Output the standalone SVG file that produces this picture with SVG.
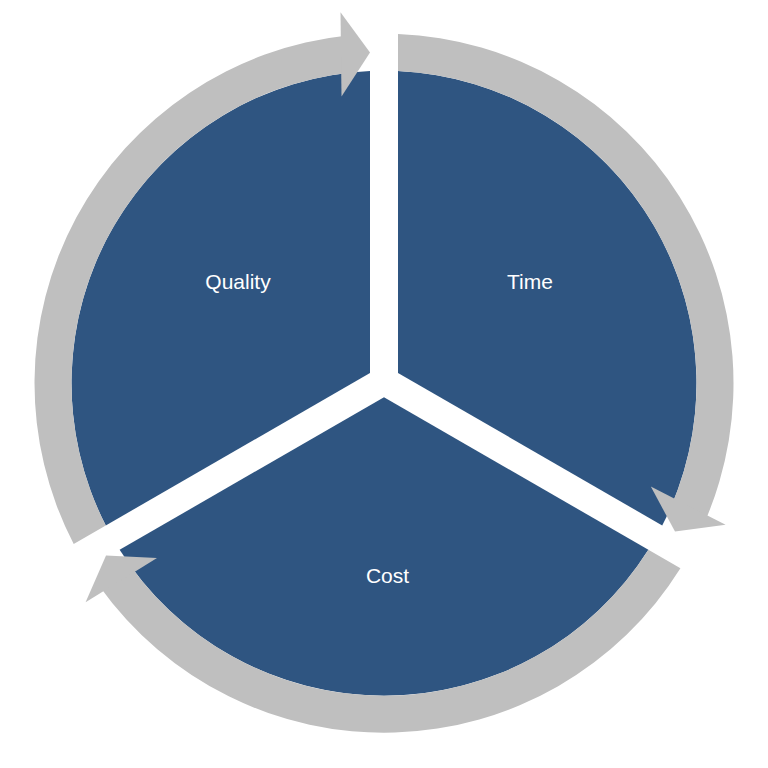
<svg xmlns="http://www.w3.org/2000/svg" width="768" height="768" viewBox="0 0 768 768">
<style>
.seg{fill:#2F5581}
.arc{fill:#BFBFBF}
.lbl{font-family:"Liberation Sans",Arial,sans-serif;font-size:21px;fill:#FFFFFF;text-anchor:middle}
</style>
<rect width="768" height="768" fill="#FFFFFF"/>
<g id="node-quality">
<path class="seg" d="M370,372.92 L105.77,525.48 A312.5,312.5 0 0 1 370,71.0 Z"/>
<text class="lbl" x="238" y="289">Quality</text>
</g>
<g id="node-time">
<path class="seg" d="M398,372.92 L398,71.0 A312.5,312.5 0 0 1 662.23,525.48 Z"/>
<text class="lbl" x="530" y="289">Time</text>
</g>
<g id="node-cost">
<path class="seg" d="M384,397.17 L648.38,549.80 A312.5,312.5 0 0 1 119.62,549.80 Z"/>
<text class="lbl" x="387.5" y="583">Cost</text>
</g>
<g id="connectors">
<g id="arrow-quality-time">
<path class="arc" d="M73.7,544.0 A349.5,349.5 0 0 1 347.47,35.61 L351.33,72.41 A312.5,312.5 0 0 0 105.77,525.48 Z"/>
<path class="arc" d="M370,52.5 L340.5,12.3 L341.5,96.6 Z"/>
</g>
<g id="arrow-time-cost">
<path class="arc" d="M398,33.98 A349.5,349.5 0 0 1 705.0,521.45 L671.02,506.81 A312.5,312.5 0 0 0 398,71.0 Z"/>
<path class="arc" d="M675,531.5 L725.6,524.8 L650.8,486.6 Z"/>
</g>
<g id="arrow-cost-quality">
<path class="arc" d="M680.44,568.32 A349.5,349.5 0 0 1 99.47,586.16 L129.59,564.67 A312.5,312.5 0 0 0 648.38,549.80 Z"/>
<path class="arc" d="M106,555.5 L85.6,602.3 L157,558 Z"/>
</g>
</g>
</svg>
